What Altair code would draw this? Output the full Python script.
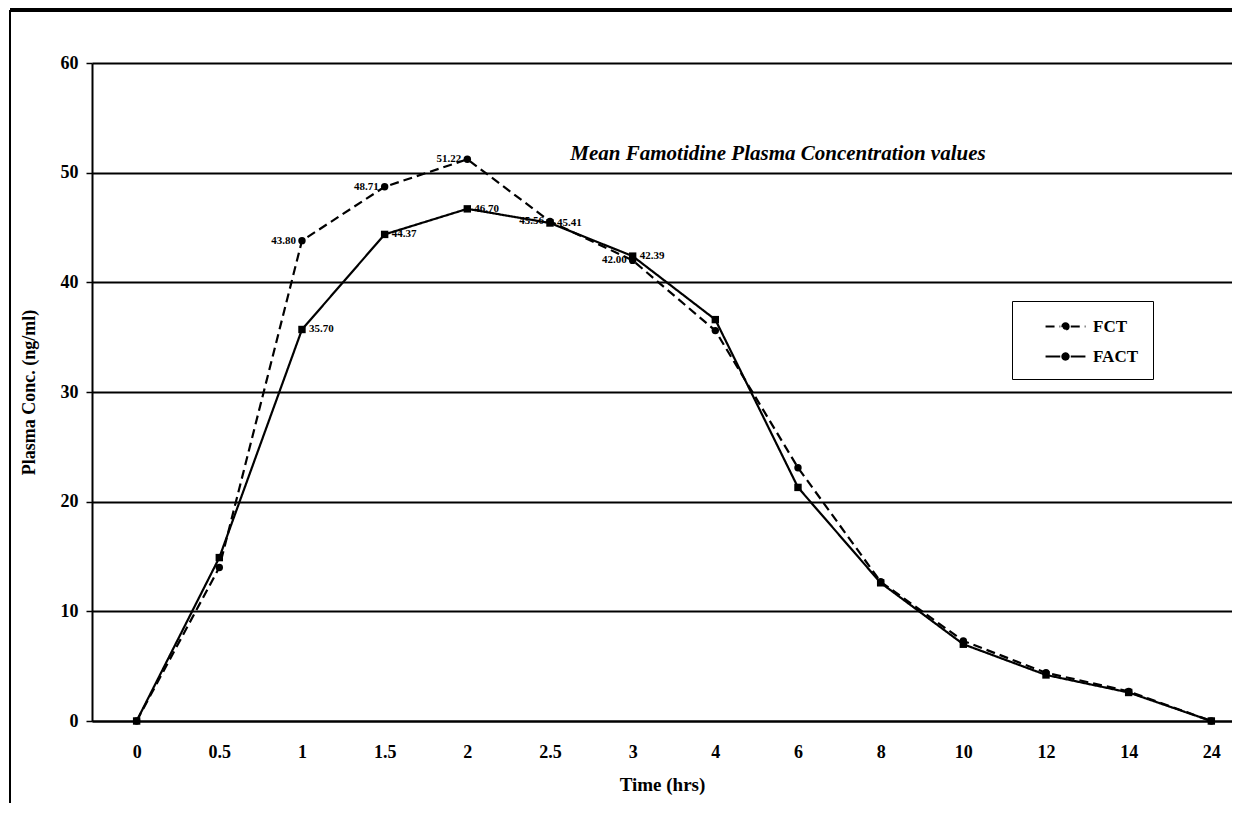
import json
import altair as alt
import pandas as pd

# ---- data ----
times = ["0", "0.5", "1", "1.5", "2", "2.5", "3", "4", "6", "8", "10", "12", "14", "24"]
fct = [0, 14.0, 43.80, 48.71, 51.22, 45.56, 42.00, 35.6, 23.1, 12.7, 7.3, 4.4, 2.7, 0]
fact = [0, 14.9, 35.70, 44.37, 46.70, 45.41, 42.39, 36.6, 21.3, 12.6, 7.0, 4.2, 2.6, 0]
fct_labels = ["", "", "43.80", "48.71", "51.22", "45.56", "42.00", "", "", "", "", "", "", ""]
fact_labels = ["", "", "35.70", "44.37", "46.70", "45.41", "42.39", "", "", "", "", "", "", ""]
series = ["FCT", "FACT"]

rows = []
for i, t in enumerate(times):
    rows.append({"idx": i, "time": t, "series": "FCT", "conc": fct[i], "label": fct_labels[i]})
    rows.append({"idx": i, "time": t, "series": "FACT", "conc": fact[i], "label": fact_labels[i]})
df = pd.DataFrame(rows)

FONT = "Liberation Serif"
W, H = 1140, 658

label_expr = json.dumps(times) + "[datum.value]"

x = alt.X(
    "idx:Q",
    scale=alt.Scale(domain=[-0.54, 13.25], nice=False, zero=False),
    axis=alt.Axis(
        values=list(range(len(times))),
        labelExpr=label_expr,
        title="Time (hrs)",
        grid=False,
        ticks=False,
        domainColor="black",
        domainWidth=2,
        labelFont=FONT,
        labelFontWeight="bold",
        labelFontSize=18,
        labelColor="black",
        labelPadding=22,
        titleFont=FONT,
        titleFontWeight="bold",
        titleFontSize=19,
        titleColor="black",
        titlePadding=14,
    ),
)
y = alt.Y(
    "conc:Q",
    scale=alt.Scale(domain=[0, 60], nice=False),
    axis=alt.Axis(
        values=[0, 10, 20, 30, 40, 50, 60],
        title="Plasma Conc. (ng/ml)",
        grid=True,
        gridColor="black",
        gridWidth=2,
        gridOpacity=1,
        domainColor="black",
        domainWidth=2,
        tickColor="black",
        tickSize=6,
        tickWidth=1.5,
        labelFont=FONT,
        labelFontWeight="bold",
        labelFontSize=18,
        labelColor="black",
        labelPadding=8,
        titleFont=FONT,
        titleFontWeight="bold",
        titleFontSize=18,
        titleColor="black",
        titlePadding=22,
    ),
)

# legend glyph: line with a dot in the middle (wider than its nominal size)
legend_symbol = "M-1.9,0H-0.5M0.5,0H1.9M0,-0.3A0.3,0.3 0 1,1 0,0.3A0.3,0.3 0 1,1 0,-0.3Z"

lines = alt.Chart(df).mark_line(color="black", strokeWidth=2.2).encode(
    x=x,
    y=y,
    detail="series:N",
    strokeDash=alt.StrokeDash(
        "series:N",
        scale=alt.Scale(domain=series, range=[[9, 5], [1, 0]]),
        legend=alt.Legend(
            title=None,
            orient="none",
            legendX=920,
            legendY=238,
            symbolType=legend_symbol,
            symbolSize=441,
            symbolStrokeColor="black",
            symbolFillColor="black",
            symbolStrokeWidth=2,
            symbolOffset=28,
            labelExpr="datum.label + '\u00a0\u00a0\u00a0\u00a0\u00a0\u00a0\u00a0\u00a0'",
            labelFont=FONT,
            labelFontWeight="bold",
            labelFontSize=17,
            labelColor="black",
            labelOffset=16,
            rowPadding=10,
            padding=14,
            strokeColor="black",
            fillColor="white",
            labelLimit=300,
        ),
    ),
)

pts_fct = alt.Chart(df).transform_filter("datum.series == 'FCT'").mark_point(
    filled=True, color="black", opacity=1, size=55, shape="circle"
).encode(x=x, y=y)
pts_fact = alt.Chart(df).transform_filter("datum.series == 'FACT'").mark_point(
    filled=True, color="black", opacity=1, size=55, shape="square"
).encode(x=x, y=y)

lbl_fct = alt.Chart(df).transform_filter(
    "datum.series == 'FCT' && datum.label != ''"
).mark_text(align="right", dx=-6, dy=0, font=FONT, fontWeight="bold", fontSize=11, color="black").encode(
    x=x, y=y, text="label:N"
)
lbl_fact = alt.Chart(df).transform_filter(
    "datum.series == 'FACT' && datum.label != ''"
).mark_text(align="left", dx=7, dy=0, font=FONT, fontWeight="bold", fontSize=11, color="black").encode(
    x=x, y=y, text="label:N"
)

frame_left = alt.Chart(df).mark_rule(color="black", strokeWidth=2).encode(
    x=alt.value(-82), y=alt.value(-53), y2=alt.value(740)
)
frame_top = alt.Chart(df).mark_rule(color="black", strokeWidth=2.5).encode(
    x=alt.value(-82), x2=alt.value(W), y=alt.value(-53)
)

chart = alt.layer(frame_left, frame_top, lines, pts_fct, pts_fact, lbl_fct, lbl_fact).properties(
    width=W,
    height=H,
    autosize=alt.AutoSizeParams(type="none"),
    padding={"left": 84, "top": 55, "right": 0, "bottom": 90},
    title=alt.TitleParams(
        "Mean Famotidine Plasma Concentration values",
        font=FONT,
        fontStyle="italic",
        fontWeight="bold",
        fontSize=21,
        color="black",
        anchor="middle",
        baseline="alphabetic",
        offset=0,
        dx=116,
        dy=172,
    ),
).configure_view(stroke=None).configure(background="white")

chart.save("out.html", embed_options={"renderer": "svg", "actions": False})
